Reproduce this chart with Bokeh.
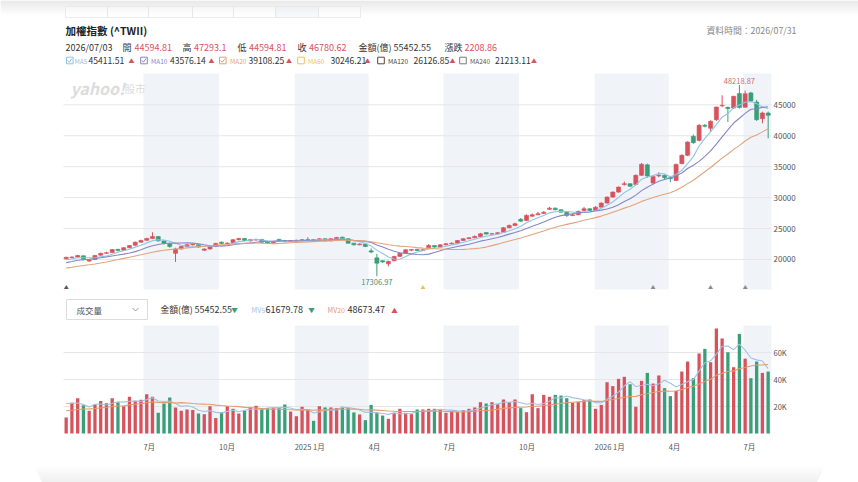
import numpy as np
import pandas as pd
from bokeh.plotting import figure
from bokeh.models import Range1d, ColumnDataSource
from bokeh.embed import file_html
from bokeh.resources import INLINE
from bokeh.core.properties import value

# ---------------- data (weekly, TAIEX ^TWII) ----------------
last_week = "2026-07-31"
opens = [20100, 20300, 20400, 20600, 19750, 20000, 20700, 21000, 21150, 21650,
         21500, 21900, 22300, 22800, 23100, 23400, 23700, 23000, 22600, 21000,
         21700, 22100, 22400, 22400, 21500, 21700, 22100, 22800, 22550, 22700,
         23200, 23400, 23000, 23150, 23250, 22800, 22650, 23250, 23050, 22900,
         23050, 23100, 23200, 23220, 23070, 23350, 23000, 23350, 23600, 23350,
         22640, 22370, 22500, 21400, 20270, 19800, 19300, 19800, 20500, 21000,
         21500, 21650, 21450, 21900, 22260, 22000, 22370, 22540, 22640, 23070,
         23350, 23510, 23720, 24350, 24100, 24160, 24400, 25130, 25500, 26500,
         26300, 27000, 27230, 27450, 28100, 28300, 28040, 27650, 27100, 27230,
         27900, 28200, 27930, 28460, 29110, 30080, 30890, 32100, 32250, 32140,
         33600, 35300, 32350, 33500, 33600, 33220, 32780, 35490, 36830, 39900,
         39250, 41700, 41200, 42600, 44850, 44600, 44480, 46810, 44594.81, 46920,
         45450, 42760, 43670]
highs = [20450, 20500, 20750, 20650, 20050, 20700, 21100, 21250, 21700, 21700,
         22000, 22350, 22900, 23200, 23500, 24390, 23800, 23100, 22700, 21900,
         22200, 22500, 22550, 22450, 21800, 22200, 22700, 22900, 22750, 23300,
         23500, 23450, 23300, 23350, 23300, 22900, 22900, 23350, 23150, 23150,
         23200, 23300, 23600, 23300, 23450, 23400, 23450, 23650, 23700, 23400,
         22700, 22600, 22550, 21800, 20900, 19900, 19800, 20600, 21100, 21650,
         21700, 21700, 21700, 22500, 22300, 22450, 22650, 22750, 23150, 23450,
         23600, 23900, 24300, 24450, 24300, 24450, 25250, 25650, 25950, 26700,
         27300, 27450, 27700, 27800, 28500, 28400, 28100, 27700, 27400, 27900,
         28500, 28300, 28600, 29250, 30200, 31000, 31800, 32600, 32300, 33750,
         35600, 35500, 33600, 34100, 33700, 33300, 35500, 37000, 39100, 40200,
         41900, 41900, 42500, 44700, 46540, 44700, 46450, 48218.87, 47293.1, 47100,
         45800, 43900, 43900]
lows = [20000, 20150, 20300, 19850, 19600, 19950, 20600, 20900, 21050, 21300,
        21400, 21800, 22200, 22700, 23000, 23300, 22900, 22400, 21900, 19600,
        21600, 22000, 22250, 21900, 21400, 21600, 22000, 22500, 22450, 22600,
        23100, 22950, 22900, 23050, 22700, 22500, 22550, 22950, 22800, 22850,
        22950, 23000, 23100, 22950, 23000, 22900, 22950, 23300, 23250, 22550,
        22250, 22300, 22000, 21000, 17306.97, 19450, 18900, 19700, 20400, 20900,
        21350, 21350, 21400, 21850, 21900, 21950, 22300, 22450, 22600, 23000,
        23300, 23450, 23650, 24050, 24000, 24100, 24300, 25050, 25400, 26100,
        26200, 26900, 27150, 27400, 28000, 27950, 27550, 26900, 27000, 27150,
        27850, 27800, 27900, 28400, 29050, 30000, 30800, 31950, 31700, 32000,
        33500, 33200, 32100, 33300, 33000, 32500, 32700, 35400, 36700, 38700,
        39100, 41350, 40600, 42400, 44600, 42220, 44300, 44400, 44594.81, 45400,
        42400, 42000, 39580]
closes = [20350, 20400, 20650, 20000, 19950, 20650, 21000, 21100, 21600, 21450,
          21900, 22250, 22800, 23070, 23400, 23700, 23000, 22600, 22100, 21700,
          22100, 22400, 22450, 22000, 21700, 22100, 22600, 22600, 22640, 23200,
          23400, 23070, 23200, 23250, 22800, 22650, 22800, 23050, 22900, 23070,
          23100, 23200, 23220, 23070, 23350, 23000, 23350, 23560, 23350, 22640,
          22370, 22500, 22100, 21200, 19400, 19600, 19700, 20480, 21000, 21570,
          21600, 21450, 21570, 22260, 22000, 22370, 22540, 22640, 23070, 23350,
          23510, 23720, 24160, 24100, 24160, 24320, 25130, 25500, 25780, 26200,
          27120, 27230, 27400, 27650, 28300, 28040, 27650, 27100, 27230, 27760,
          28200, 27930, 28460, 29110, 30080, 30890, 31700, 32250, 31850, 33600,
          35400, 33500, 33430, 33600, 33220, 33060, 35370, 36830, 38980, 38880,
          41680, 41520, 42330, 44640, 44920, 44380, 46380, 44571.76, 46780.62, 45630,
          42600, 43670, 43300]
# 成交金額(億)
amounts = [11900, 22700, 26200, 21000, 16800, 21500, 24000, 22500, 26200, 23200,
           20200, 27200, 24000, 25000, 29100, 27200, 15300, 22200, 26700, 19300,
           16800, 17800, 17500, 14800, 14300, 20200, 11400, 15800, 20200, 18300,
           14800, 17000, 19300, 20500, 18800, 18800, 18800, 18800, 21500, 16300,
           12800, 19800, 17800, 9400, 20200, 19300, 19300, 18800, 19800, 18800,
           15600, 14100, 9900, 21200, 15600, 13300, 10900, 15300, 18300, 15300,
           14300, 17800, 17800, 18300, 18300, 17800, 15300, 16800, 16000, 17300,
           18300, 19300, 23200, 22200, 23200, 21700, 25200, 23200, 25200, 18800,
           15800, 29100, 18800, 28600, 27200, 28600, 28100, 26200, 22700, 23500,
           24700, 25200, 18300, 21200, 38000, 35100, 40500, 42000, 36500, 19800,
           39000, 44900, 37000, 43000, 33600, 27700, 31600, 45900, 53300, 41000,
           59300, 62700, 52800, 77800, 70400, 60200, 49100, 73800, 55452.55, 41000,
           53300, 44900, 45900]
# weeks just before the visible window (estimated from where the average lines start)
closes_before = [17500, 17450, 17550, 17700, 17800, 18030, 17650, 17600, 17800, 17920,
                 18600, 18750, 19000, 19300, 19600, 19700, 19750, 19950, 20000]
amounts_before = [14500, 13800, 15200, 14000, 16000, 15500, 13000, 14200, 15800, 16500,
                  14800, 15000, 16200, 15000, 15500, 21500, 26000, 25800, 25800]

band_starts = ["2024-07-01", "2025-01-01", "2025-07-01", "2026-01-01", "2026-07-01"]
band_ends = ["2024-10-01", "2025-04-01", "2025-10-01", "2026-04-01", "2026-08-04"]
month_ticks = ["2024-07-01", "2024-10-01", "2025-01-01", "2025-04-01", "2025-07-01",
               "2025-10-01", "2026-01-01", "2026-04-01", "2026-07-01"]
month_labels = ["7月", "10月", "2025 1月", "4月", "7月", "10月", "2026 1月", "4月", "7月"]
price_ticks = [20000, 25000, 30000, 35000, 40000, 45000]
amount_ticks = [20000, 40000, 60000]
amount_tick_labels = ["20K", "40K", "60K"]
event_weeks = ["2024-03-29", "2025-06-06", "2026-03-13", "2026-05-22", "2026-07-03"]
event_colors = ["#555555", "#e5c15a", "#8a8a8a", "#8a8a8a", "#8a8a8a"]

title = "加權指數 (^TWII)"
hover_week = "2026-07-03"
hover_label = "2026/07/03"
data_time = "資料時間：2026/07/31"
ma_names = ["MA5", "MA10", "MA20", "MA60", "MA120", "MA240"]
ma_values = ["45411.51", "43576.14", "39108.25", "30246.21", "26126.85", "21213.11"]
ma_checked = [True, True, True, False, False, False]
mv_names = ["MV5", "MV20"]
mv_values = ["61679.78", "48673.47"]
mv_up = [False, True]

# ---------------- style / geometry ----------------
FONT = "Noto Sans CJK TC"
RED = "#d6535d"
GREEN = "#3a9e79"
DARK = "#333333"
AXIS = "#555555"
BAND = "#f0f4f9"
GRID = "#e6e6e6"
MA_COLORS = ["#8fc4e4", "#8686c6", "#e3a37c", "#f0c64a", "#5e463c", "#7a7a7a"]
MA_TEXT = ["#8fc4e4", "#8686c6", "#e3a37c", "#f0c64a", "#444444", "#555555"]
MV_COLORS = ["#a3c2de", "#e59b6c"]
DAY = 86400000

W, H_PX = 858, 482
FRAME_L, FRAME_R = 63, 771
MAIN_T, MAIN_B = 73, 289
VOL_T, VOL_B = 325, 433
X_START = pd.Timestamp("2024-03-25 18:00")
X_END = pd.Timestamp("2026-08-04 01:30")
Y_LO, Y_HI = 15150, 50060
V_HI = 80000

mspp = (X_END - X_START) / (FRAME_R - FRAME_L)
ppu = (Y_HI - Y_LO) / (MAIN_B - MAIN_T)
apu = V_HI / (VOL_B - VOL_T)

O = np.array(opens, float); Hh = np.array(highs, float)
L = np.array(lows, float); C = np.array(closes, float)
A = np.array(amounts, float)
dates = pd.date_range(end=last_week, periods=len(closes), freq="7D")
xd = dates.values
hi = int(np.where(dates == pd.Timestamp(hover_week))[0][0])

def rolling(before, vals, n):
    s = pd.Series(list(before) + list(vals), dtype=float)
    return s.rolling(n).mean().to_numpy()[len(before):]

ma = [rolling(closes_before, closes, n) for n in (5, 10, 20)]
mv = [rolling(amounts_before, amounts, n) for n in (5, 20)]
colors = np.where(C >= O, RED, GREEN)

def fmt(v):
    return str(round(float(v), 2))

f = figure(width=W, height=H_PX, x_range=Range1d(0, W), y_range=Range1d(H_PX, 0),
           x_axis_location=None, y_axis_location=None, output_backend="svg",
           toolbar_location=None, min_border=0)
f.grid.visible = False
f.outline_line_color = None
f.background_fill_color = "white"
f.border_fill_color = "white"
f.extra_x_ranges = {"t": Range1d(X_START - FRAME_L * mspp, X_END + (W - FRAME_R) * mspp)}
f.extra_y_ranges = {
    "price": Range1d(Y_LO - (H_PX - MAIN_B) * ppu, Y_HI + MAIN_T * ppu),
    "amount": Range1d(-(H_PX - VOL_B) * apu, V_HI + VOL_T * apu),
}
TP = dict(x_range_name="t", y_range_name="price")
TA = dict(x_range_name="t", y_range_name="amount")

def put(x, y, s, color=DARK, size="9px", style="normal", align="left", font=FONT):
    f.text(x=[x], y=[y], text=[s], text_color=color, text_font_size=size,
           text_font_style=style, text_align=align, text_baseline="middle",
           text_font=value(font))

# ---------------- page chrome ----------------
for i in range(15):
    g = int(226 + i * 2.0)
    f.quad(left=0, right=W, top=i, bottom=i + 1,
           fill_color="#%02x%02x%02x" % (g, g, g), line_color=None)
tab_edges = [65, 107, 148, 192, 233, 275, 318, 360]
f.quad(left=tab_edges[:-1], right=tab_edges[1:], top=6, bottom=17,
       fill_color=["#ffffff"] * 5 + ["#e3ebf6", "#ffffff"], fill_alpha=0.3,
       line_color="#e4e4e4", line_width=0.7)
for i in range(16):
    g = int(254 - i * 1.3)
    f.quad(left=34 + i * 0.5, right=824 - i * 0.5, top=466 + i, bottom=467 + i,
           fill_color="#%02x%02x%02x" % (g, g, g), line_color=None)

# ---------------- header ----------------
put(65, 30, title, color="#222222", size="10.5px", style="bold")
put(796, 30, data_time, color="#888888", size="8.8px", align="right")
row2 = [(hover_label, 65, DARK), ("開", 122, DARK), (fmt(O[hi]), 134, RED),
        ("高", 182, DARK), (fmt(Hh[hi]), 193.5, RED), ("低", 237, DARK), (fmt(L[hi]), 248.5, RED),
        ("收", 297, DARK), (fmt(C[hi]), 308.5, RED), ("金額(億)", 358, DARK),
        (fmt(A[hi]), 393, DARK), ("漲跌", 444, DARK), (fmt(C[hi] - C[hi - 1]), 464, RED)]
for s, x0, col in row2:
    put(x0, 46.5, s, color=col, size="9px")
box_x = [69.3, 143.5, 222.3, 300.5, 380.5, 462.5]
name_x = [74, 150.5, 229.5, 307.5, 387.5, 469.5]
val_x = [88, 169.5, 248, 330, 413, 494.5]
tri_x = [131, 211, 288.5, 367, 452, 533.5]
ly = 60
for i in range(6):
    bx = box_x[i]
    f.rect(x=[bx], y=[ly], width=6.6, height=6.6, fill_color="white",
           line_color=MA_COLORS[i], line_width=1)
    if ma_checked[i]:
        f.multi_line(xs=[[bx - 2.1, bx - 0.6, bx + 2.2]], ys=[[ly - 0.1, ly + 1.7, ly - 2.0]],
                     line_color=MA_COLORS[i], line_width=1)
    put(name_x[i], ly, ma_names[i], color=MA_TEXT[i], size="6.5px")
    put(val_x[i], ly, ma_values[i], color=DARK, size="8.6px")
    put(tri_x[i], ly, "▲", color=RED, size="6px", align="center")

# ---------------- main candlestick chart ----------------
bl = pd.to_datetime(band_starts).values
br = pd.to_datetime(band_ends).values
f.quad(left=bl, right=br, bottom=Y_LO, top=Y_HI, fill_color=BAND, line_color=None, **TP)
f.segment(x0=[X_START] * len(price_ticks), x1=[X_END] * len(price_ticks),
          y0=price_ticks, y1=price_ticks, line_color=GRID, line_width=1, **TP)
put(70, 87, "yahoo!", color="#dcdcdc", size="16px", style="bold italic")
put(124, 88, "股市", color="#dcdcdc", size="10.5px")
src = ColumnDataSource(dict(x=xd, h=Hh, l=L, top=np.maximum(O, C), bot=np.minimum(O, C),
                            color=colors))
f.segment(x0="x", y0="h", x1="x", y1="l", line_color="color", line_width=1, source=src, **TP)
f.vbar(x="x", width=5.0 * DAY, top="top", bottom="bot", fill_color="color",
       line_color="color", line_width=0.6, source=src, **TP)
for k in range(3):
    f.line(xd, ma[k], line_color=MA_COLORS[k], line_width=1.1, **TP)
imax, imin = int(np.argmax(Hh)), int(np.argmin(L))
f.text(x=[xd[imax]], y=[Hh[imax]], text=[fmt(Hh[imax])], text_color="#cf6d72",
       text_font_size="7.5px", text_align="center", text_baseline="bottom", y_offset=-1,
       text_font=value(FONT), **TP)
f.text(x=[xd[imin]], y=[L[imin]], text=[fmt(L[imin])], text_color="#3f9079",
       text_font_size="7.5px", text_align="center", text_baseline="top", y_offset=3,
       text_font=value(FONT), **TP)
f.text(x=pd.to_datetime(event_weeks).values, y=[Y_LO] * len(event_weeks),
       text=["▲"] * len(event_weeks), text_color=event_colors, text_font_size="5px",
       text_align="center", text_baseline="bottom", text_font=value(FONT), **TP)
f.text(x=[X_END] * len(price_ticks), y=price_ticks, text=[str(t) for t in price_ticks],
       x_offset=2, text_color=AXIS, text_font_size="8px", text_align="left",
       text_baseline="middle", text_font=value(FONT), **TP)

# ---------------- volume header ----------------
f.quad(left=66, right=147, top=299, bottom=319, fill_color="white", line_color="#dcdcdc")
put(76, 309, "成交量", color="#555555", size="8.5px")
f.multi_line(xs=[[132, 135, 138]], ys=[[307.5, 310.5, 307.5]], line_color="#999999", line_width=1)
put(160, 309, "金額(億)", color=DARK, size="8.8px")
put(194, 309, fmt(A[hi]), color=DARK, size="9px")
put(234, 309, "▼" if A[hi] < A[hi - 1] else "▲", color=GREEN if A[hi] < A[hi - 1] else RED,
    size="6.5px", align="center")
mv_x = [(251, 265, 311), (327, 347, 394)]
for i in range(2):
    a, b, c = mv_x[i]
    put(a, 309, mv_names[i], color=MV_COLORS[i], size="7px")
    put(b, 309, mv_values[i], color=DARK, size="9px")
    put(c, 309, "▲" if mv_up[i] else "▼", color=RED if mv_up[i] else GREEN,
        size="6.5px", align="center")

# ---------------- volume chart ----------------
f.quad(left=bl, right=br, bottom=0, top=V_HI, fill_color=BAND, line_color=None, **TA)
f.segment(x0=[X_START] * len(amount_ticks), x1=[X_END] * len(amount_ticks),
          y0=amount_ticks, y1=amount_ticks, line_color=GRID, line_width=1, **TA)
f.vbar(x=xd, width=4.0 * DAY, top=A, bottom=0, fill_color=colors, line_color=None, **TA)
for k in range(2):
    f.line(xd, mv[k], line_color=MV_COLORS[k], line_width=1.1, **TA)
f.text(x=[X_END] * len(amount_ticks), y=amount_ticks, text=amount_tick_labels,
       x_offset=2, text_color=AXIS, text_font_size="7.5px", text_align="left",
       text_baseline="middle", text_font=value(FONT), **TA)
f.text(x=pd.to_datetime(month_ticks).values, y=[0] * len(month_ticks), text=month_labels,
       y_offset=13, text_color=AXIS, text_font_size="7.5px", text_align="left",
       text_baseline="middle", text_font=value(FONT), **TA)

open("out.html", "w").write(file_html(f, INLINE))
